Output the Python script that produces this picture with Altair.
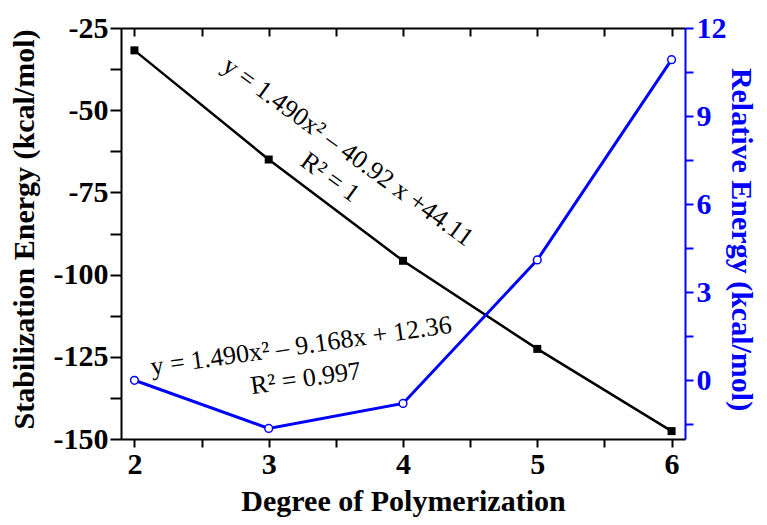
import altair as alt
import pandas as pd

# ---- data ----
degree = [2, 3, 4, 5, 6]
stabilization = [-31.8, -65.0, -95.8, -122.6, -147.6]   # kcal/mol (left axis)
relative = [0.0, -1.64, -0.79, 4.1, 10.92]             # kcal/mol (right axis)

x_ticks = [2, 2.5, 3, 3.5, 4, 4.5, 5, 5.5, 6]
left_ticks = [-150, -137.5, -125, -112.5, -100, -87.5, -75, -62.5, -50, -37.5, -25]
right_ticks = [-1.5, 0, 1.5, 3, 4.5, 6, 7.5, 9, 10.5, 12]

note_text = ["y = 1.490x\u00b2 \u2013 40.92 x +44.11", "R\u00b2 = 1",
             "y = 1.490x\u00b2 \u2013 9.168x + 12.36", "R\u00b2 = 0.997"]
note_x = [3.59, 3.457, 3.241, 3.276]
note_y = [-62.6, -70.4, -121.7, -131.6]
note_angle = [36, 36, 352, 352]

df = pd.DataFrame({"degree": degree, "stab": stabilization, "rel": relative})
notes = pd.DataFrame({"degree": note_x, "stab": note_y, "label": note_text, "angle": note_angle})

SERIF = "Liberation Serif"
BLUE = "#0000ff"
TICK_FS = 30
TITLE_FS = 30

x_scale = alt.Scale(domain=[1.9, 6.1], nice=False, zero=False)

x_bottom = alt.Axis(
    orient="bottom", values=x_ticks,
    labelExpr="datum.value % 1 == 0 ? toString(datum.value) : ''",
    title="Degree of Polymerization",
    domainColor="black", domainWidth=2, tickColor="black", tickWidth=2, tickSize=8,
    labelFont=SERIF, labelFontWeight="bold", labelFontSize=TICK_FS, labelColor="black",
    labelPadding=2, labelFlush=False,
    titleFont=SERIF, titleFontWeight="bold", titleFontSize=TITLE_FS, titleColor="black",
    titleX=282, titleY=71.5, titleBaseline="alphabetic", titleAlign="center", grid=False,
)
x_top = alt.Axis(
    orient="top", values=x_ticks, labels=False, title=None,
    domainColor="black", domainWidth=2, tickColor="black", tickWidth=2,
    tickSize=alt.ExprRef("-8"), grid=False,
)

y_left_scale = alt.Scale(domain=[-150, -25], nice=False, zero=False)
y_left = alt.Axis(
    orient="left", values=left_ticks,
    labelExpr="datum.value % 25 == 0 ? toString(datum.value) : ''",
    title="Stabilization Energy (kcal/mol)",
    domainColor="black", domainWidth=2, tickColor="black", tickWidth=2, tickSize=11,
    labelFont=SERIF, labelFontWeight="bold", labelFontSize=TICK_FS, labelColor="black",
    labelPadding=2, labelFlush=False,
    titleFont=SERIF, titleFontWeight="bold", titleFontSize=TITLE_FS, titleColor="black",
    titleAngle=270, titleX=-97, titleY=201, titleBaseline="middle", titleAlign="center",
    grid=False,
)

y_right_scale = alt.Scale(domain=[-2, 12], nice=False, zero=False)
y_right = alt.Axis(
    orient="right", values=right_ticks,
    labelExpr="datum.value % 3 == 0 ? toString(datum.value) : ''",
    title="Relative Energy (kcal/mol)",
    domainColor=BLUE, domainWidth=2, tickColor=BLUE, tickWidth=2, tickSize=8,
    labelFont=SERIF, labelFontWeight="bold", labelFontSize=TICK_FS, labelColor=BLUE,
    labelPadding=3, labelFlush=False,
    titleFont=SERIF, titleFontWeight="bold", titleFontSize=TITLE_FS, titleColor=BLUE,
    titleAngle=90, titleX=55, titleY=211, titleBaseline="middle", titleAlign="center",
    grid=False,
)

X_A = alt.X("degree:Q", scale=x_scale, axis=x_bottom)
Y_A = alt.Y("stab:Q", scale=y_left_scale, axis=y_left)

black_line = alt.Chart(df).mark_line(color="black", strokeWidth=2.5).encode(x=X_A, y=Y_A)
black_pts = alt.Chart(df).mark_point(shape="square", filled=True, color="black",
                                     size=64, opacity=1).encode(x=X_A, y=Y_A)
note_marks = alt.Chart(notes).mark_text(font=SERIF, fontSize=26, color="black",
                                        align="center", baseline="middle").encode(
    x=X_A, y=Y_A, text="label:N", angle=alt.Angle("angle:Q", scale=None))

group_a = alt.layer(black_line, black_pts, note_marks)

X_B = alt.X("degree:Q", scale=x_scale, axis=x_top)
Y_B = alt.Y("rel:Q", scale=y_right_scale, axis=y_right)
blue_line = alt.Chart(df).mark_line(color=BLUE, strokeWidth=3).encode(x=X_B, y=Y_B)
blue_pts = alt.Chart(df).mark_point(shape="circle", filled=True, fill="white", stroke=BLUE,
                                    strokeWidth=1.5, size=60, opacity=1).encode(x=X_B, y=Y_B)
group_b = alt.layer(blue_line, blue_pts)

chart = alt.layer(group_a, group_b).resolve_scale(y="independent").resolve_axis(
    x="independent", y="independent"
).properties(
    width=564, height=411,
    autosize=alt.AutoSizeParams(type="none"),
    padding={"left": 113, "top": 20, "right": 74, "bottom": 78},
).configure_view(stroke=None).configure(background="white")

chart.save("out.html", embed_options={"renderer": "svg", "actions": False})
